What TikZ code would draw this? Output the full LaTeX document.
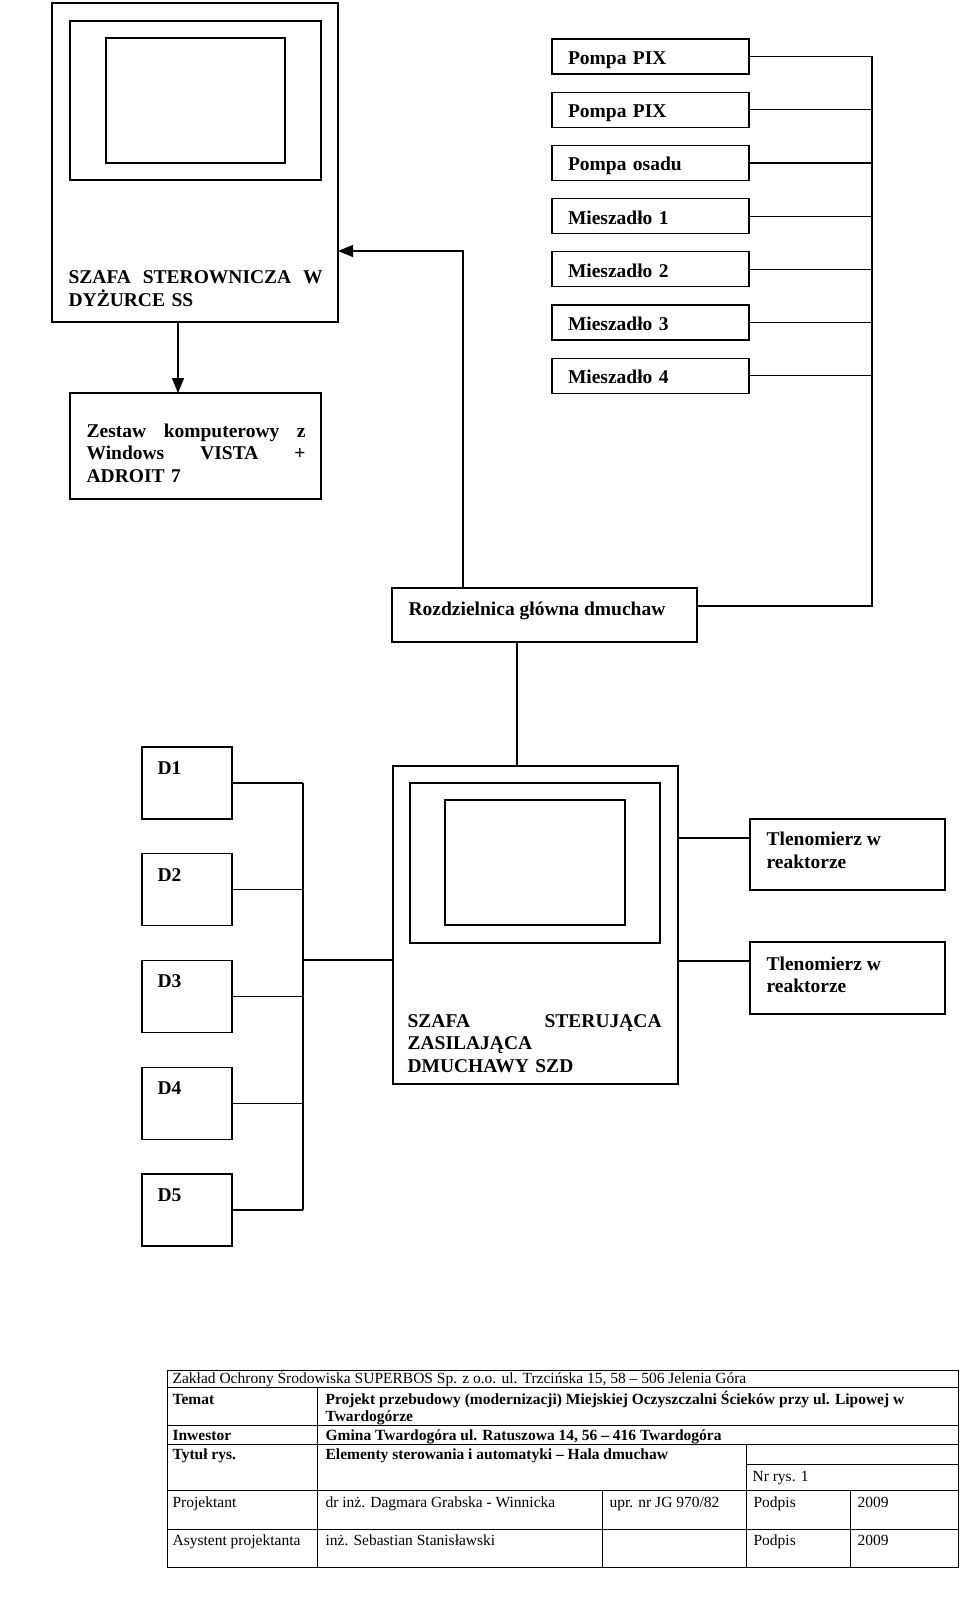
\documentclass[tikz,border=0pt]{standalone}
\usepackage{fontspec}
\setmainfont{Liberation Serif}
\usetikzlibrary{arrows.meta,calc}
\begin{document}
\begin{tikzpicture}[x=1pt,y=-1pt,
  line width=1.2pt,
  box/.style={draw, rectangle, inner sep=0pt, outer sep=0pt, anchor=north west},
  txtbox/.style={box, inner xsep=16pt, align=left, text height=18pt, text depth=2pt, font=\bfseries\fontsize{19.5}{22.5}\selectfont},
  lbl/.style={inner sep=0pt, anchor=west, align=left, font=\bfseries\fontsize{19.5}{22.5}\selectfont},
  tb/.style={inner sep=0pt, anchor=base west, font=\fontsize{15.5}{17.5}\selectfont},
  tbb/.style={inner sep=0pt, anchor=base west, font=\bfseries\fontsize{15.5}{17.5}\selectfont},
  arr/.style={-{Triangle[length=15pt,width=12pt]}},
  tline/.style={line width=1pt},
]
\useasboundingbox (0,0) rectangle (960,1610);

% --- top-left control cabinet
\node[box, minimum width=286, minimum height=319] (cab1) at (52,3) {};
\node[box, minimum width=251, minimum height=159] (cab1f) at (70,21) {};
\node[box, minimum width=179, minimum height=125] (cab1s) at (106,38) {};
\node[lbl, text width=254pt] (cab1t) at (68,288.5)
  {\makebox[254pt][l]{SZAFA\hfill STEROWNICZA\hfill W}\\DYŻURCE SS};

% --- computer set
\node[box, minimum width=251, minimum height=106] (pc) at (70,393) {};
\node[lbl, text width=219pt] (pct) at (86,453)
  {\makebox[219pt][l]{Zestaw\hfill komputerowy\hfill z}\\
   \makebox[219pt][l]{Windows\hfill VISTA\hfill +}\\ADROIT 7};
\coordinate (a1) at (178,0);
\draw[arr] (cab1.south -| a1) -- (pc.north -| a1);

% --- pumps and mixers
\foreach \i/\t in {1/Pompa PIX,2/Pompa PIX,3/Pompa osadu,4/Mieszadło 1,5/Mieszadło 2,6/Mieszadło 3,7/Mieszadło 4}{
  \node[txtbox, minimum width=197, minimum height=35, text width=165] (p\i) at (552,{39+53.2*(\i-1)}) {\t};
}
\coordinate (busP) at (872,56);

% --- main switchboard
\node[box, minimum width=305, minimum height=54] (rz) at (392,588) {};
\node[lbl] (rzt) at (408,611) {Rozdzielnica główna dmuchaw};
\coordinate (rzR) at ($(rz.north east)+(0,18)$);
\draw (rzR) -| (p1.east -| busP) -- (p1.east);
\foreach \i in {2,...,7}{
  \draw (p\i.east) -- (p\i.east -| busP);
}
\coordinate (j1) at (463,251);
\draw[arr] (rz.north -| j1) -- (j1) -- (j1 -| cab1.east);

% --- blower cabinet SZD
\node[box, minimum width=285, minimum height=318] (szd) at (393,766) {};
\node[box, minimum width=250, minimum height=160] (szdf) at (410,783) {};
\node[box, minimum width=180, minimum height=125] (szds) at (445,800) {};
\node[lbl, text width=254pt] (szdt) at (407,1043.5)
  {\makebox[254pt][l]{SZAFA\hfill STERUJĄCA}\\ZASILAJĄCA\\DMUCHAWY SZD};
\coordinate (j2) at (517,0);
\draw (rz.south -| j2) -- (szd.north -| j2);

% --- blowers D1..D5
\foreach \i in {1,...,5}{
  \node[box, minimum width=90, minimum height=72] (d\i) at (142,{747+106.75*(\i-1)}) {};
  \node[lbl] (d\i t) at ($(d\i.north west)+(15,21)$) {D\i};
}
\coordinate (busD) at (303,783);
\foreach \i in {1,...,5}{
  \draw (d\i.east) -- (d\i.east -| busD);
}
\draw (d1.east -| busD) -- (d5.east -| busD);
\coordinate (sL) at ($(szd.north west)+(0,194)$);
\draw (sL -| busD) -- (sL);

% --- oxygen meters
\node[box, minimum width=195, minimum height=71] (t1) at (750,819) {};
\node[box, minimum width=195, minimum height=72] (t2) at (750,942) {};
\node[lbl] (t1t) at (766,850.5) {Tlenomierz w\\reaktorze};
\node[lbl] (t2t) at (766,975) {Tlenomierz w\\reaktorze};
\coordinate (t1c) at ($(t1.north west)+(0,19)$);
\coordinate (t2c) at ($(t2.north west)+(0,19)$);
\draw (szd.east |- t1c) -- (t1c);
\draw (szd.east |- t2c) -- (t2c);

% --- title block
\node[box, tline, minimum width=791, minimum height=197] (tab) at (167,1370) {};
\draw[tline] (167,1387) -- (958,1387);
\draw[tline] (167,1425) -- (958,1425);
\draw[tline] (167,1444) -- (958,1444);
\draw[tline] (167,1490) -- (958,1490);
\draw[tline] (167,1529) -- (958,1529);
\draw[tline] (746,1464) -- (958,1464);
\draw[tline] (317,1387) -- (317,1567);
\draw[tline] (746,1444) -- (746,1567);
\draw[tline] (602,1490) -- (602,1567);
\draw[tline] (850,1490) -- (850,1567);

\node[tb] (r1) at (172,1383) {Zakład Ochrony Środowiska SUPERBOS Sp. z o.o. ul. Trzcińska 15, 58 – 506 Jelenia Góra};
\node[tbb] (r2a) at (172,1404) {Temat};
\node[tbb] (r2b) at (325,1404) {Projekt przebudowy (modernizacji) Miejskiej Oczyszczalni Ścieków przy ul. Lipowej w};
\node[tbb] (r2c) at (325,1421) {Twardogórze};
\node[tbb] (r3a) at (172,1440) {Inwestor};
\node[tbb] (r3b) at (325,1440) {Gmina Twardogóra ul. Ratuszowa 14, 56 – 416 Twardogóra};
\node[tbb] (r4a) at (172,1459) {Tytuł rys.};
\node[tbb] (r4b) at (325,1459) {Elementy sterowania i automatyki – Hala dmuchaw};
\node[tb] (r4c) at (752,1481) {Nr rys. 1};
\node[tb] (r5a) at (172,1507) {Projektant};
\node[tb] (r5b) at (325,1507) {dr inż. Dagmara Grabska - Winnicka};
\node[tb] (r5c) at (609,1507) {upr. nr JG 970/82};
\node[tb] (r5d) at (753,1507) {Podpis};
\node[tb] (r5e) at (857,1507) {2009};
\node[tb] (r6a) at (172,1545) {Asystent projektanta};
\node[tb] (r6b) at (325,1545) {inż. Sebastian Stanisławski};
\node[tb] (r6d) at (753,1545) {Podpis};
\node[tb] (r6e) at (857,1545) {2009};
\end{tikzpicture}
\end{document}
